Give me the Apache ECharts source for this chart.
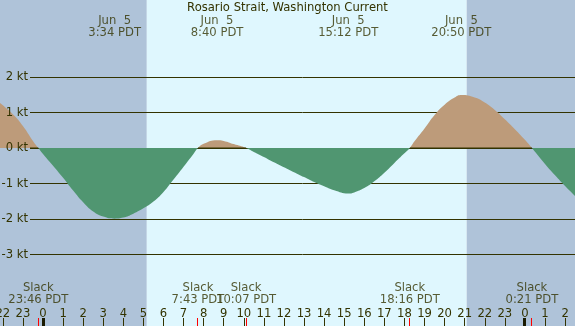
<!DOCTYPE html>
<html><head><meta charset="utf-8">
<script src="https://cdn.jsdelivr.net/npm/echarts/dist/echarts.min.js"></script>
<style>html,body{margin:0;padding:0;background:#fff}#c{width:575px;height:326px}</style>
</head><body><div id="c"></div>
<script>
// ---- data (hours from midnight Jun 5, PDT) ----
const hours = [-2.2, -1.5, -1.0, -0.5, -0.233, 0, 0.5, 1.0, 1.5, 2.0, 2.5, 3.0, 3.567, 4.0, 4.5, 5.0, 5.5, 6.0, 6.5, 7.0, 7.5, 7.717, 8.0, 8.667, 9.0, 9.5, 10.117, 10.5, 11.0, 11.5, 12.0, 12.5, 13.0, 13.5, 14.0, 14.5, 15.2, 15.5, 16.0, 16.5, 17.0, 17.5, 18.0, 18.267, 18.5, 19.0, 19.5, 20.0, 20.5, 20.833, 21.5, 22.0, 22.5, 23.0, 23.5, 24.0, 24.35, 25.0, 25.5, 26.0, 26.6];
const speeds = [1.29, 0.95, 0.62, 0.20, 0, -0.17, -0.50, -0.84, -1.20, -1.53, -1.79, -1.93, -1.99, -1.96, -1.85, -1.70, -1.51, -1.24, -0.89, -0.53, -0.16, 0, 0.12, 0.22, 0.20, 0.11, 0, -0.11, -0.25, -0.40, -0.54, -0.68, -0.82, -0.96, -1.08, -1.19, -1.28, -1.25, -1.13, -0.94, -0.70, -0.42, -0.15, 0, 0.19, 0.55, 0.93, 1.22, 1.42, 1.49, 1.42, 1.28, 1.07, 0.81, 0.53, 0.23, 0, -0.45, -0.77, -1.07, -1.41];

const eventHours = [3.567, 8.667, 15.2, 20.833];
const eventDates = ['Jun  5', 'Jun  5', 'Jun  5', 'Jun  5'];
const eventTimes = ['3:34 PDT', '8:40 PDT', '15:12 PDT', '20:50 PDT'];

const slackHours = [-0.233, 7.717, 10.117, 18.267, 24.35];
const slackTimes = ['23:46 PDT', '7:43 PDT', '10:07 PDT', '18:16 PDT', '0:21 PDT'];

const midnightHours = [0, 24];

const periodStart = [-3, 5.17, 21.1];
const periodEnd = [5.17, 21.1, 27];
const periodIsDay = [0, 1, 0];

const speedTicks = [-3, -2, -1, 0, 1, 2];
const titleText = 'Rosario Strait, Washington Current';

// ---- layout / style ----
const Y_MIN = -(326 - 148) / 35.5;
const Y_MAX = 148 / 35.5;
const TOP_Y = 3.40;
const SLACK_Y = -4.12;
const TXT = '#333300';
const FONT = 'DejaVu Sans';
const FS = 11.6;
const NIGHT = '#afc3d9';
const DAY = '#dff7fe';
const TAN = '#bd9b7a';
const GREEN = '#509671';

const chart = echarts.init(document.getElementById('c'), null, {renderer: 'canvas'});

const tickSeries = (list, color, w) => ({
  type: 'custom', xAxisIndex: 0, yAxisIndex: 0, z: 4, silent: true,
  data: list.map(h => [h, Y_MIN]),
  renderItem: function (params, api) {
    const p = api.coord([api.value(0), Y_MIN]);
    return {type: 'rect', shape: {x: Math.round(p[0] - w / 2), y: p[1] - 8, width: w, height: 8}, style: {fill: color}};
  }
});

chart.setOption({
  animation: false,
  title: {text: titleText, left: 'center', top: 2, padding: 0,
    textStyle: {fontSize: FS, fontWeight: 'normal', color: TXT, fontFamily: FONT}},
  grid: [
    {left: -17.24, right: -10.16, top: 0, bottom: 0, containLabel: false, outerBoundsMode: 'none'},
    {left: 30, right: 0, top: 77, bottom: 71.5, containLabel: false, outerBoundsMode: 'none'}
  ],
  xAxis: [
    {gridIndex: 0, type: 'value', min: -3, max: 27, interval: 1, z: 3,
      axisLine: {show: false, onZero: false},
      axisTick: {show: true, inside: true, length: 8, lineStyle: {color: TXT, width: 1}},
      axisLabel: {inside: true, margin: 6, color: TXT, fontSize: FS, fontFamily: FONT,
        formatter: v => String(((Math.round(v) % 24) + 24) % 24)},
      splitLine: {show: false}},
    {gridIndex: 1, type: 'value', min: 0, max: 1, show: false}
  ],
  yAxis: [
    {gridIndex: 0, type: 'value', min: Y_MIN, max: Y_MAX, show: false},
    {gridIndex: 1, type: 'value', min: speedTicks[0], max: speedTicks[speedTicks.length - 1], interval: 1, z: 1,
      axisLine: {show: false}, axisTick: {show: false}, axisLabel: {show: false},
      splitLine: {show: true, lineStyle: {color: TXT, width: 1}}},
    {gridIndex: 1, type: 'value', position: 'left', min: speedTicks[0], max: speedTicks[speedTicks.length - 1], interval: 1, z: 3,
      axisLine: {show: false}, axisTick: {show: false}, splitLine: {show: false},
      axisLabel: {formatter: '{value} kt', margin: 2, color: TXT, fontSize: FS, fontFamily: FONT}}
  ],
  series: [
    {type: 'custom', xAxisIndex: 0, yAxisIndex: 0, z: 0, silent: true,
      data: periodStart.map((s, i) => [s, periodEnd[i], periodIsDay[i]]),
      encode: {x: [0, 1]},
      renderItem: function (params, api) {
        const a = api.coord([api.value(0), Y_MAX]);
        const b = api.coord([api.value(1), Y_MIN]);
        return {type: 'rect', shape: {x: a[0], y: a[1], width: b[0] - a[0], height: b[1] - a[1]},
          style: {fill: api.value(2) ? DAY : NIGHT}};
      }},
    {type: 'line', xAxisIndex: 0, yAxisIndex: 0, z: 2, silent: true,
      data: hours.map((h, i) => [h, speeds[i]]),
      smooth: 0.5, showSymbol: false, symbol: 'none',
      lineStyle: {width: 0, opacity: 0},
      itemStyle: {color: GREEN},
      areaStyle: {opacity: 1, color: GREEN}},
    {type: 'scatter', xAxisIndex: 0, yAxisIndex: 0, z: 5, silent: true, symbolSize: 0,
      data: eventHours.map(h => [h, TOP_Y]),
      label: {show: true, position: 'inside', color: TXT, fontSize: FS, fontFamily: FONT, lineHeight: 12,
        formatter: p => eventDates[p.dataIndex] + '\n' + eventTimes[p.dataIndex]}},
    {type: 'scatter', xAxisIndex: 0, yAxisIndex: 0, z: 5, silent: true, symbolSize: 0,
      data: slackHours.map(h => [h, SLACK_Y]),
      label: {show: true, position: 'inside', color: TXT, fontSize: FS, fontFamily: FONT, lineHeight: 12,
        formatter: p => 'Slack\n' + slackTimes[p.dataIndex]}},
    tickSeries(slackHours, '#ff0000', 1),
    tickSeries(midnightHours, '#1a1a00', 3),
    {type: 'line', xAxisIndex: 0, yAxisIndex: 0, z: 3, silent: true, data: [],
      showSymbol: false, symbol: 'none', connectNulls: false,
      lineStyle: {color: TXT, width: 1}}
  ]
});

// colour the area: tan above the zero line, green below (zero position from the axis scale)
const zeroY = chart.convertToPixel({gridIndex: 0}, [0, 0])[1];
const H = chart.getHeight();
const f = zeroY / H;
// zero line stays visible over flood (tan) stretches, as in the reference
const lineStartH = chart.convertFromPixel({gridIndex: 0}, [30, zeroY])[0];
const bounds = [lineStartH].concat(slackHours, [hours[hours.length - 1]]);
const zeroSeg = [];
for (let i = 0; i < bounds.length - 1; i++) {
  const mid = (bounds[i] + bounds[i + 1]) / 2;
  let k = 0;
  for (let j = 0; j < hours.length; j++) if (Math.abs(hours[j] - mid) < Math.abs(hours[k] - mid)) k = j;
  if (speeds[k] > 0) zeroSeg.push([bounds[i], 0], [bounds[i + 1], 0], '-');
}
chart.setOption({series: [{}, {areaStyle: {color: new echarts.graphic.LinearGradient(0, 0, 0, H, [
  {offset: 0, color: TAN}, {offset: f, color: TAN}, {offset: f, color: GREEN}, {offset: 1, color: GREEN}
], true)}}, {}, {}, {}, {}, {data: zeroSeg}]});
</script></body></html>
